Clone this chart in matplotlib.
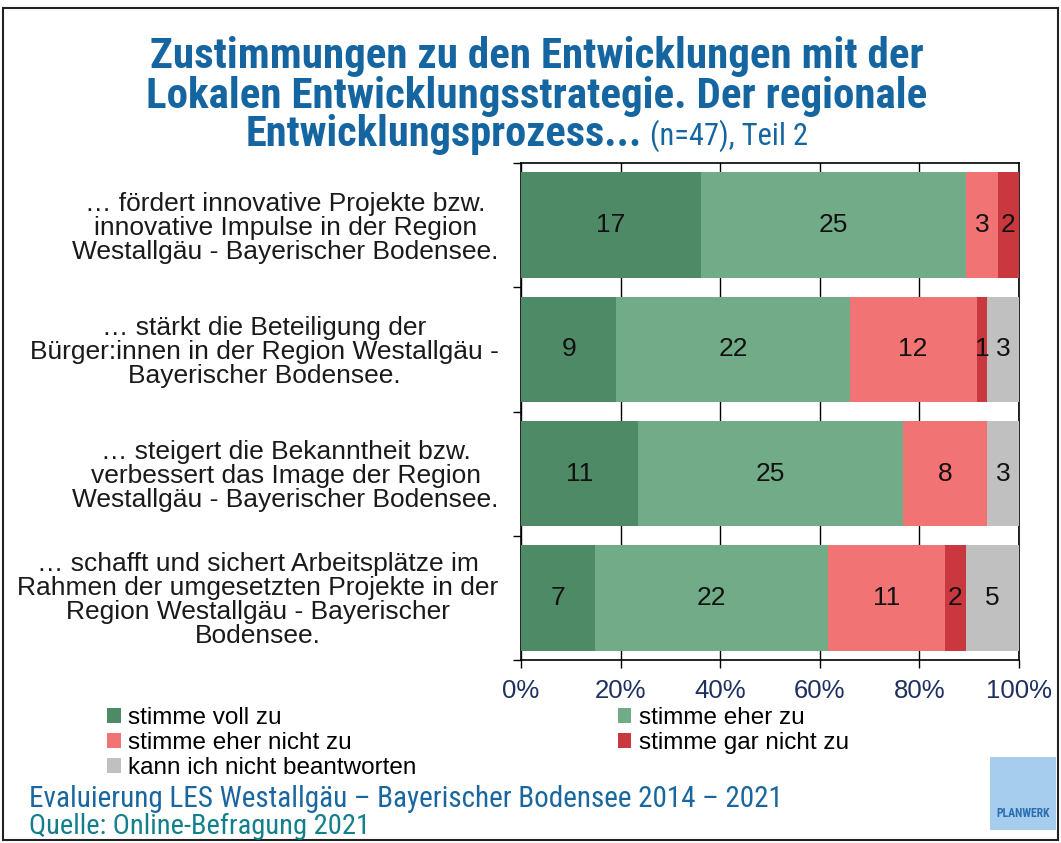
import matplotlib.pyplot as plt
from matplotlib import font_manager
from matplotlib.patches import Rectangle
import numpy as np

# Daten (Anzahl Nennungen, n=47)
categories = [
    "\u2026 fördert innovative Projekte bzw.\ninnovative Impulse in der Region\nWestallgäu - Bayerischer Bodensee.",
    "\u2026 stärkt die Beteiligung der\nBürger:innen in der Region Westallgäu -\nBayerischer Bodensee.",
    "\u2026 steigert die Bekanntheit bzw.\nverbessert das Image der Region\nWestallgäu - Bayerischer Bodensee.",
    "\u2026 schafft und sichert Arbeitsplätze im\nRahmen der umgesetzten Projekte in der\nRegion Westallgäu - Bayerischer\nBodensee.",
]
voll_zu = [17, 9, 11, 7]
eher_zu = [25, 22, 25, 22]
eher_nicht_zu = [3, 12, 8, 11]
gar_nicht_zu = [2, 1, 0, 2]
kann_nicht = [0, 3, 3, 5]
series_names = ["stimme voll zu", "stimme eher zu", "stimme eher nicht zu",
                "stimme gar nicht zu", "kann ich nicht beantworten"]
colors = ["#4f8a67", "#72ab88", "#f27373", "#c8383e", "#c0c0c0"]
xticks = [0, 20, 40, 60, 80, 100]

series = [voll_zu, eher_zu, eher_nicht_zu, gar_nicht_zu, kann_nicht]
totals = np.sum(series, axis=0)

# schmale Schrift fuer Titel suchen
installed = {f.name for f in font_manager.fontManager.ttflist}
narrow_name = 'Roboto'
for cand in ['Liberation Sans Narrow', 'Roboto Condensed', 'Open Sans Condensed', 'Noto Sans Condensed']:
    if cand in installed:
        narrow_name = cand
        break
narrow = [narrow_name, 'DejaVu Sans']
plt.rcParams['font.family'] = ['Liberation Sans', 'DejaVu Sans']

fig = plt.figure(figsize=(10.61, 8.43), dpi=100, facecolor='white')
ax = fig.add_axes([0.491, 0.2171, 0.4695, 0.5895])

y = np.arange(len(categories))
left = np.zeros(len(categories))
bars = []
for vals, name, col in zip(series, series_names, colors):
    pct = np.array(vals) / totals * 100
    b = ax.barh(y, pct, left=left, height=0.85, color=col, label=name, zorder=3)
    bars.append(b)
    for yi, l, p, v in zip(y, left, pct, vals):
        if v > 0:
            ax.text(l + p / 2, yi, str(v), ha='center', va='center',
                    fontsize=19, color='#111111', zorder=4)
    left += pct

ax.set_xlim(0, 100)
ax.set_ylim(len(categories) - 0.5, -0.5)
ax.set_xticks(xticks)
ax.set_xticklabels([f"{t}%" for t in xticks], fontsize=18.5, color='#1f3060')
ax.tick_params(axis='x', direction='out', length=6, width=1, pad=8, color='black')
ax.xaxis.grid(True, color='black', linewidth=1, zorder=1)

ax.set_yticks(y)
ax.set_yticklabels(categories, fontsize=19, color='#1a1a1a')
for lbl in ax.get_yticklabels():
    lbl.set_multialignment('center')
    lbl.set_linespacing(1.0)
ax.tick_params(axis='y', which='major', length=0, pad=16)
ax.set_yticks(np.arange(-0.5, len(categories)), minor=True)
ax.tick_params(axis='y', which='minor', direction='out', length=6, width=1)
for s in ax.spines.values():
    s.set_color('black')
    s.set_linewidth(1.2)

# Titel
title_col = '#1566a0'
fig.text(0.506, 0.933, "Zustimmungen zu den Entwicklungen mit der",
         ha='center', va='center', fontsize=31, fontweight='bold', color=title_col, family=narrow)
fig.text(0.506, 0.885, "Lokalen Entwicklungsstrategie. Der regionale",
         ha='center', va='center', fontsize=31, fontweight='bold', color=title_col, family=narrow)
fig.text(0.605, 0.840, "Entwicklungsprozess...",
         ha='right', va='center', fontsize=30.5, fontweight='bold', color=title_col, family=narrow)
fig.text(0.613, 0.839, "(n=47), Teil 2",
         ha='left', va='center', fontsize=22, color=title_col, family=narrow)

# Legende (zeilenweise Reihenfolge)
order = [0, 2, 4, 1, 3]
fig.legend([bars[i] for i in order], [series_names[i] for i in order],
           loc='upper left', bbox_to_anchor=(0.101, 0.161), ncol=2, frameon=False,
           fontsize=17.5, handlelength=0.55, handleheight=0.55, handletextpad=0.3,
           columnspacing=8.3, labelspacing=0.12, borderpad=0, borderaxespad=0)

# Fusszeile
fig.text(0.027, 0.052, "Evaluierung LES Westallgäu \u2013 Bayerischer Bodensee 2014 \u2013 2021",
         ha='left', va='center', fontsize=21, color='#1a67a0', family=narrow)
fig.text(0.027, 0.020, "Quelle: Online-Befragung 2021",
         ha='left', va='center', fontsize=20.5, color='#12808a', family=narrow)

# Logo
fig.patches.append(Rectangle((0.933, 0.016), 0.062, 0.086, transform=fig.transFigure,
                             facecolor='#a7cdee', edgecolor='none'))
fig.text(0.964, 0.035, "PLANWERK", ha='center', va='center', fontsize=8.5,
         fontweight='bold', color='#2a6fb0', family=narrow)

# Rahmen
fig.patches.append(Rectangle((0.003, 0.003), 0.994, 0.988, transform=fig.transFigure,
                             facecolor='none', edgecolor='#222222', linewidth=1.5))

fig.savefig('out.png', dpi=100, facecolor='white')
